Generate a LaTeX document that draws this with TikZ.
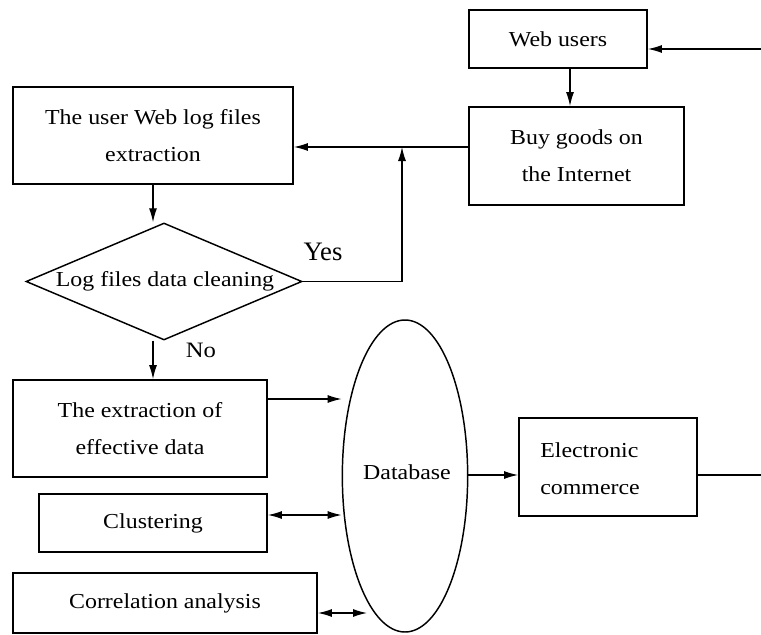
\documentclass[tikz,border=0pt]{standalone}
\usepackage{fontspec}
\setmainfont[FakeStretch=1.12]{Liberation Serif}
\newfontfamily\plainserif{Liberation Serif}
\usetikzlibrary{shapes.geometric,arrows.meta}
\begin{document}
\begin{tikzpicture}[x=0.75pt,y=-0.75pt,
  txt/.style={font=\fontsize{16}{28}\selectfont},
  box/.style={draw,line width=1.4pt,rectangle,inner sep=0pt,align=center,txt},
  tip/.tip={Latex[length=10.5pt,width=6pt]},
  arr/.style={-tip,line width=0.9pt},
  darr/.style={tip-tip,line width=0.9pt},
  ln/.style={line width=0.9pt}]
\useasboundingbox (0,0) rectangle (761,635);
% boxes
\node[box,minimum width=133.5pt,minimum height=43.5pt] (web) at (558,39) {Web users};
\node[box,minimum width=161.25pt,minimum height=73.5pt] (buy) at (576.5,156) {Buy goods on\\the Internet};
\node[box,minimum width=210pt,minimum height=72.75pt] (log) at (153,135.5) {The user Web log files\\extraction};
\node[draw,line width=1.1pt,diamond,inner sep=0pt,minimum width=207pt,minimum height=87.75pt] (dia) at (164,281.5) {};
\node[txt,inner sep=0pt] (diat) at (165,281.5) {Log files data cleaning};
\node[box,minimum width=190.5pt,minimum height=72.75pt] (ext) at (140,428.5) {The extraction of\\effective data};
\node[box,minimum width=171pt,minimum height=43.5pt] (clu) at (153,523) {Clustering};
\node[box,minimum width=228pt,minimum height=45pt] (cor) at (165,603) {Correlation analysis};
\node[draw,line width=1.1pt,ellipse,inner sep=0pt,minimum width=94pt,minimum height=234pt] (db) at (405,476) {};
\node[txt,inner sep=0pt] (dbt) at (407,472) {Database};
\node[draw,line width=1.4pt,rectangle,inner sep=0pt,minimum width=133.5pt,minimum height=73.5pt] (ec) at (608,467) {};
\node[txt,inner sep=0pt,align=left,anchor=west] (ect) at (540,469) {Electronic\\commerce};
% labels
\node[font=\plainserif\fontsize{20}{24}\selectfont,inner sep=0pt] (yes) at (323,252) {Yes};
\node[font=\fontsize{16.5}{20}\selectfont,inner sep=0pt] (no) at (201,350) {No};
% coordinates
\coordinate (rin) at (761,49);
\coordinate (wb) at (570,0);
\coordinate (j) at (402,147);
\coordinate (rout) at (761,475);
\coordinate (l1) at (0,399);
\coordinate (l2) at (0,515);
\coordinate (c3) at (367,613);
% connectors
\draw[arr] (rin) -- (rin -| web.east);
\draw[arr] (wb |- web.south) -- (wb |- buy.north);
\draw[arr] (j -| buy.west) -- (j -| log.east);
\draw[arr] (dia.east) -| (j);
\draw[arr] (log.south) -- (log.south |- dia.north);
\draw[arr] (log.south |- dia.south) -- (log.south |- ext.north);
\draw[arr] (l1 -| ext.east) -- (l1 -| db.west);
\draw[darr] (l2 -| clu.east) -- (l2 -| db.west);
\draw[darr] (c3 -| cor.east) -- (c3);
\draw[arr] (rout -| db.east) -- (rout -| ec.west);
\draw[ln] (rout -| ec.east) -- (rout);
\end{tikzpicture}
\end{document}
